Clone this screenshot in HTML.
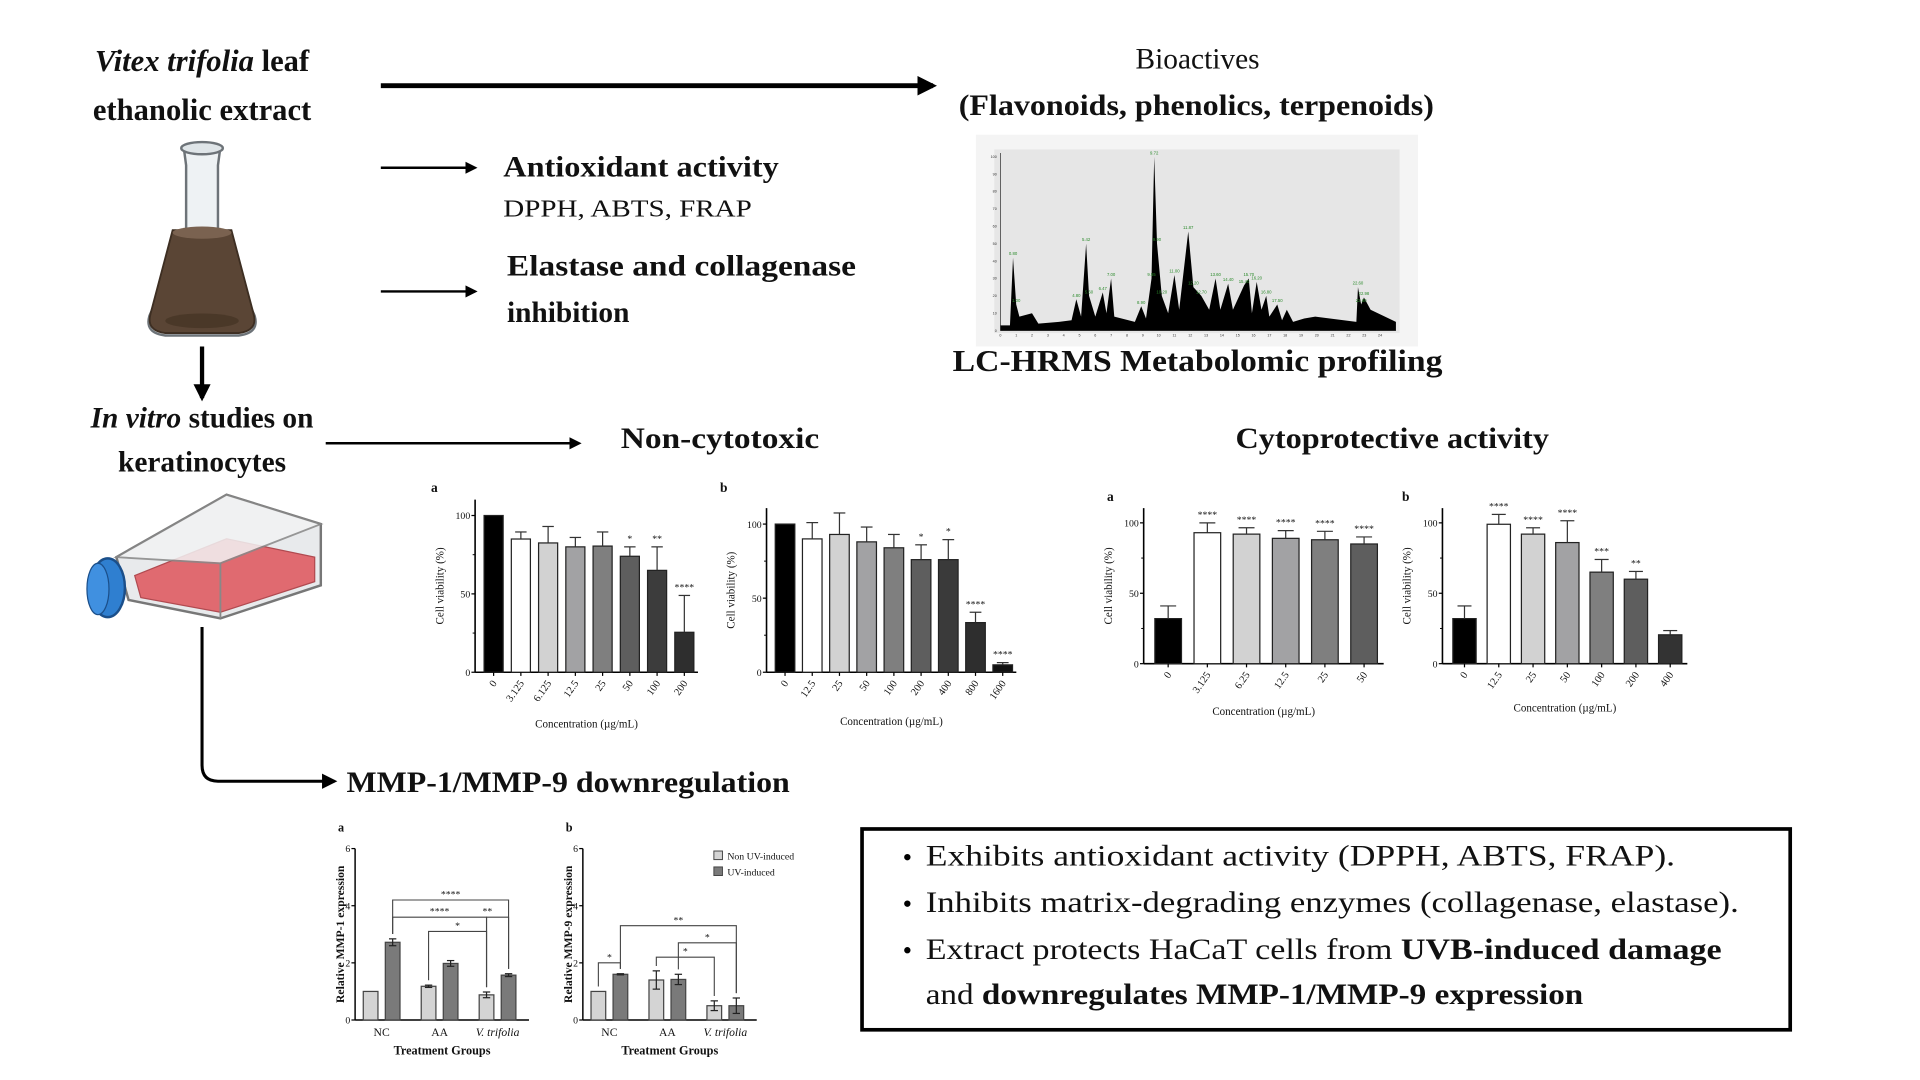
<!DOCTYPE html>
<html><head><meta charset="utf-8"><style>
html,body{margin:0;padding:0;background:#fff;width:1920px;height:1080px;overflow:hidden}
svg{display:block}
text{font-family:"Liberation Serif",serif;fill:#111}
.b{font-weight:bold}
</style></head><body>
<svg id="fig" width="1920" height="1080" viewBox="0 0 1568 882" preserveAspectRatio="none" xmlns="http://www.w3.org/2000/svg">
<defs>
<marker id="ah" viewBox="0 0 10 10" refX="8" refY="5" markerWidth="4" markerHeight="4" orient="auto"><path d="M0,0 L10,5 L0,10 z" fill="#000"/></marker>
<marker id="ah2" viewBox="0 0 10 10" refX="8" refY="5" markerWidth="5" markerHeight="5" orient="auto"><path d="M0,0 L10,5 L0,10 z" fill="#000"/></marker>
</defs>

<!-- headings -->
<text x="165" y="58" text-anchor="middle" font-size="25" class="b"><tspan font-style="italic">Vitex trifolia</tspan> leaf</text>
<text x="165" y="98" text-anchor="middle" font-size="25" class="b">ethanolic extract</text>
<text x="978" y="56" text-anchor="middle" font-size="24">Bioactives</text>
<text x="977" y="94" text-anchor="middle" font-size="24" class="b" textLength="388" lengthAdjust="spacingAndGlyphs">(Flavonoids, phenolics, terpenoids)</text>
<text x="411" y="144" font-size="24" class="b" textLength="225" lengthAdjust="spacingAndGlyphs">Antioxidant activity</text>
<text x="411" y="177" font-size="20" textLength="203" lengthAdjust="spacingAndGlyphs">DPPH, ABTS, FRAP</text>
<text x="414" y="225" font-size="24" class="b" textLength="285" lengthAdjust="spacingAndGlyphs">Elastase and collagenase</text>
<text x="414" y="263" font-size="24" class="b">inhibition</text>
<text x="978" y="303" text-anchor="middle" font-size="25" class="b" textLength="400" lengthAdjust="spacingAndGlyphs">LC-HRMS Metabolomic profiling</text>
<text x="165" y="349" text-anchor="middle" font-size="24" class="b"><tspan font-style="italic">In vitro</tspan> studies on</text>
<text x="165" y="385" text-anchor="middle" font-size="24" class="b">keratinocytes</text>
<text x="588" y="366" text-anchor="middle" font-size="24" class="b" textLength="162" lengthAdjust="spacingAndGlyphs">Non-cytotoxic</text>
<text x="1137" y="366" text-anchor="middle" font-size="24" class="b" textLength="256" lengthAdjust="spacingAndGlyphs">Cytoprotective activity</text>
<text x="283" y="647" font-size="24" class="b" textLength="362" lengthAdjust="spacingAndGlyphs">MMP-1/MMP-9 downregulation</text>

<!-- arrows -->
<line x1="311" y1="70" x2="762" y2="70" stroke="#000" stroke-width="4" marker-end="url(#ah)"/>
<line x1="311" y1="137" x2="388" y2="137" stroke="#000" stroke-width="2" marker-end="url(#ah2)"/>
<line x1="311" y1="238" x2="388" y2="238" stroke="#000" stroke-width="2" marker-end="url(#ah2)"/>
<line x1="266" y1="362" x2="473" y2="362" stroke="#000" stroke-width="2" marker-end="url(#ah2)"/>
<line x1="165" y1="283" x2="165" y2="325" stroke="#000" stroke-width="3.5" marker-end="url(#ah)"/>
<path d="M165,512 L165,625 Q165,638 178,638 L273,638" fill="none" stroke="#000" stroke-width="2.5" marker-end="url(#ah2)"/>

<!-- flask illustration -->
<g>
<path d="M150,120 L180,120 L178,135 L178,190 L208,258 Q212,272 195,274 L135,274 Q118,272 122,258 L152,190 L152,135 Z" fill="#eef2f4" stroke="#6d7378" stroke-width="2"/>
<path d="M141,188 L189,188 L207,256 Q211,270 195,272 L135,272 Q119,270 123,256 Z" fill="#5a4535" stroke="#3d2e22" stroke-width="1.5"/>
<ellipse cx="165" cy="190" rx="24" ry="5" fill="#7a6250"/>
<ellipse cx="165" cy="262" rx="30" ry="6" fill="#4a3828"/>
<ellipse cx="165" cy="121" rx="17" ry="5" fill="#dfe5e8" stroke="#6d7378" stroke-width="2"/>
</g>

<!-- culture flask -->
<g>
<path d="M95,455 L185,404 L262,428 L262,478 L180,505 L105,490 Z" fill="#e8eaec" stroke="#777" stroke-width="2"/>
<path d="M110,470 L185,440 L257,455 L257,475 L180,500 L115,488 Z" fill="#e06a70" stroke="#b04a50" stroke-width="1"/>
<path d="M95,455 L185,404 L262,428 L180,460 Z" fill="#f2f3f4" stroke="#888" stroke-width="1.5" opacity="0.85"/>
<path d="M180,460 L180,505" stroke="#888" stroke-width="1.5"/>
<ellipse cx="88" cy="480" rx="14" ry="24" fill="#2f7fd0" stroke="#1b4f8a" stroke-width="2"/>
<ellipse cx="80" cy="481" rx="9" ry="21" fill="#4090e0" stroke="#1b4f8a" stroke-width="1"/>
</g>

<!-- chromatogram -->
<g id="chrom">
<rect x="797" y="110" width="361" height="173" fill="#f4f4f4"/>
<rect x="812" y="122" width="331" height="150" fill="#e6e6e6"/>
</g>

<!-- summary box -->
<g>
<rect x="704" y="677" width="758" height="164" fill="#fff" stroke="#000" stroke-width="3"/>
<circle cx="741" cy="700" r="2.6" fill="#000"/><circle cx="741" cy="738" r="2.6" fill="#000"/><circle cx="741" cy="776" r="2.6" fill="#000"/>
<text x="756" y="707" font-size="24" textLength="612" lengthAdjust="spacingAndGlyphs">Exhibits antioxidant activity (DPPH, ABTS, FRAP).</text>
<text x="756" y="745" font-size="24" textLength="664" lengthAdjust="spacingAndGlyphs">Inhibits matrix-degrading enzymes (collagenase, elastase).</text>
<text x="756" y="783" font-size="24" textLength="650" lengthAdjust="spacingAndGlyphs">Extract protects HaCaT cells from <tspan class="b">UVB-induced damage</tspan></text>
<text x="756" y="820" font-size="24" textLength="537" lengthAdjust="spacingAndGlyphs">and <tspan class="b">downregulates MMP-1/MMP-9 expression</tspan></text>
</g>
<g id="charts"></g>
</svg>
<script>
// ---- data ----
const ncA_cats=["0","3.125","6.125","12.5","25","50","100","200"];
const ncA_vals=[100,85,82.5,80,80.5,74,65,25.5];
const ncA_errs=[0,4.5,10.5,6,9,6,15,23.5];
const ncA_sig=["","","","","","*","**","****"];
const ncB_cats=["0","12.5","25","50","100","200","400","800","1600"];
const ncB_vals=[100,90,93,88,84,76,76,33.5,5];
const ncB_errs=[0,11,14.5,10,9,10,13.5,7,1.5];
const ncB_sig=["","","","","","*","*","****","****"];
const cpA_cats=["0","3.125","6.25","12.5","25","50"];
const cpA_vals=[32,93,92,89,88,85];
const cpA_errs=[9,7,4.5,5.5,6,5];
const cpA_sig=["","****","****","****","****","****"];
const cpB_cats=["0","12.5","25","50","100","200","400"];
const cpB_vals=[32,99,92,86,65,60,20.5];
const cpB_errs=[9,7,4.5,15.5,9,5.5,3];
const cpB_sig=["","****","****","****","***","**",""];
const viabTicks=[0,50,100];
const mmpGroups=["NC","AA","V. trifolia"];
const mmp1_non=[1,1.18,0.88];
const mmp1_non_err=[0,0.04,0.1];
const mmp1_uv=[2.72,1.98,1.57];
const mmp1_uv_err=[0.12,0.1,0.05];
const mmp9_non=[1,1.4,0.5];
const mmp9_non_err=[0,0.32,0.17];
const mmp9_uv=[1.6,1.42,0.5];
const mmp9_uv_err=[0.02,0.18,0.27];
const mmpTicks=[0,2,4,6];
const chromTime=[0,0.6,0.8,1.0,1.2,2.0,2.4,3.7,4.5,4.8,5.1,5.42,5.6,6.0,6.47,6.7,7.0,7.2,8.5,8.9,9.2,9.55,9.72,9.9,10.2,10.6,11.0,11.3,11.87,12.2,12.7,13.2,13.6,13.9,14.4,14.7,15.4,15.7,15.9,16.2,16.5,16.8,17.0,17.5,17.8,18.1,18.5,19.2,19.9,22.5,22.6,22.8,22.98,23.4,25];
const chromAbund=[3,3,42,15,8,10,4,5,6,18,8,50,20,8,22,10,30,8,5,14,7,30,100,50,20,10,32,12,57,25,20,12,30,12,27,12,26,30,10,28,12,20,8,15,6,12,5,7,8,5,25,15,19,12,5];

const NS="http://www.w3.org/2000/svg";
const root=document.getElementById('charts');
function mk(tag,attrs,parent,txt){const e=document.createElementNS(NS,tag);for(const k in attrs)e.setAttribute(k,attrs[k]);if(txt!==undefined)e.textContent=txt;(parent||root).appendChild(e);return e;}

// ---- chromatogram ----
(function(){
  const g=document.getElementById('chrom');
  const x0=817,x1=1140,yb=270,yt=128;
  const sx=t=>x0+(t/25)*(x1-x0), sy=v=>yb-(v/100)*(yb-yt);
  let d="M"+sx(0)+","+yb;
  for(let i=0;i<chromTime.length;i++){d+=" L"+sx(chromTime[i]).toFixed(1)+","+sy(chromAbund[i]).toFixed(1);}
  d+=" L"+sx(25)+","+yb+" Z";
  const p=mk('path',{d:d,fill:'#000'},g);
  
  
  mk('line',{x1:x0,y1:yb,x2:x1,y2:yb,stroke:'#333','stroke-width':0.6},g);
  mk('line',{x1:x0,y1:yb,x2:x0,y2:yt-3,stroke:'#333','stroke-width':0.6},g);
  for(let i=0;i<chromTime.length;i++){ if(chromAbund[i]>=14){
    const t=mk('text',{x:sx(chromTime[i]),y:sy(chromAbund[i])-2,'font-size':3.5,'text-anchor':'middle',style:'fill:#2a8a2a;font-family:Liberation Sans,sans-serif'},g,chromTime[i].toFixed(2));
    
    
  }}
  for(let v=0;v<=100;v+=10){mk('text',{x:x0-3,y:sy(v)+1,'font-size':3,'text-anchor':'end',style:'fill:#333;font-family:Liberation Sans,sans-serif'},g,v);}
  for(let t=0;t<=24;t++){mk('text',{x:sx(t),y:yb+5,'font-size':3,'text-anchor':'middle',style:'fill:#333;font-family:Liberation Sans,sans-serif'},g,t);}
})();

// ---- bar charts ----
function barChart(o,cats,vals,errs,sig,colors){
  const g=mk('g',{});
  
  
  const sy=v=>o.y0-(v/o.max)*(o.y0-o.yMax);
  const n=cats.length;
  mk('line',{x1:o.ax,y1:o.top,x2:o.ax,y2:o.y0,stroke:'#000','stroke-width':1.3},g);
  mk('line',{x1:o.ax,y1:o.y0,x2:o.xEnd,y2:o.y0,stroke:'#000','stroke-width':1.3},g);
  viabTicks.forEach(t=>{mk('line',{x1:o.ax-3,y1:sy(t),x2:o.ax,y2:sy(t),stroke:'#000'},g);
    mk('text',{x:o.ax-4,y:sy(t)+3,'font-size':8,'text-anchor':'end'},g,t);});
  [25,75].forEach(t=>mk('line',{x1:o.ax-2,y1:sy(t),x2:o.ax,y2:sy(t),stroke:'#000','stroke-width':0.8},g));
  const step=(o.xEnd-o.ax-4)/n;
  for(let i=0;i<n;i++){
    const cx=o.ax+4+step*(i+0.5), w=step*o.bw;
    const top=sy(vals[i]);
    const r=mk('rect',{x:cx-w/2,y:top,width:w,height:o.y0-top,fill:colors[i],stroke:'#222','stroke-width':1},g);
    
    
    if(errs[i]>0){const ey=sy(vals[i]+errs[i]);
      mk('line',{x1:cx,y1:top,x2:cx,y2:ey,stroke:'#333','stroke-width':1},g);
      mk('line',{x1:cx-w*0.3,y1:ey,x2:cx+w*0.3,y2:ey,stroke:'#333','stroke-width':1},g);}
    if(sig[i]){mk('text',{x:cx,y:sy(vals[i]+errs[i])-4,'font-size':8,'text-anchor':'middle'},g,sig[i]);}
    mk('line',{x1:cx,y1:o.y0,x2:cx,y2:o.y0+3,stroke:'#000'},g);
    mk('text',{x:cx+3,y:o.y0+9,'font-size':8.5,'text-anchor':'end',transform:`rotate(-55 ${cx+3} ${o.y0+9})`},g,cats[i]);
  }
  mk('text',{x:(o.ax+o.xEnd)/2,y:o.xl,'font-size':9,'text-anchor':'middle'},g,'Concentration (µg/mL)');
  mk('text',{x:o.ax-26,y:(o.top+o.y0)/2,'font-size':9,'text-anchor':'middle',transform:`rotate(-90 ${o.ax-26} ${(o.top+o.y0)/2})`},g,'Cell viability (%)');
  mk('text',{x:o.lx,y:o.ly,'font-size':11,class:'b'},g,o.letter);
}
barChart({name:'noncytotoxic-chart-a',ax:388,top:408,y0:549,yMax:421,max:100,xEnd:570,bw:0.7,xl:594,lx:352,ly:402,letter:'a'},ncA_cats,ncA_vals,ncA_errs,ncA_sig,['#000','#fff','#d2d2d2','#a2a2a4','#7f7f7f','#5e5e5e','#3c3c3c','#2e2e2e']);
barChart({name:'noncytotoxic-chart-b',ax:626,top:415,y0:549,yMax:428,max:100,xEnd:830,bw:0.72,xl:592,lx:588,ly:402,letter:'b'},ncB_cats,ncB_vals,ncB_errs,ncB_sig,['#000','#fff','#d2d2d2','#a2a2a4','#7f7f7f','#5e5e5e','#3a3a3a','#2e2e2e','#111']);
barChart({name:'cytoprotective-chart-a',ax:934,top:415,y0:542,yMax:427,max:100,xEnd:1130,bw:0.68,xl:584,lx:904,ly:409,letter:'a'},cpA_cats,cpA_vals,cpA_errs,cpA_sig,['#000','#fff','#d2d2d2','#a2a2a4','#7f7f7f','#5e5e5e']);
barChart({name:'cytoprotective-chart-b',ax:1178,top:415,y0:542,yMax:427,max:100,xEnd:1378,bw:0.68,xl:581,lx:1145,ly:409,letter:'b'},cpB_cats,cpB_vals,cpB_errs,cpB_sig,['#000','#fff','#d2d2d2','#a2a2a4','#7f7f7f','#5e5e5e','#333']);

// ---- MMP charts ----
function mmpChart(o,non,nonE,uv,uvE,brackets){
  const g=mk('g',{});
  
  
  const sy=v=>o.y0-(v/6)*(o.y0-o.y6);
  mk('line',{x1:o.ax,y1:o.y6,x2:o.ax,y2:o.y0,stroke:'#000','stroke-width':1.2},g);
  mk('line',{x1:o.ax,y1:o.y0,x2:o.xEnd,y2:o.y0,stroke:'#000','stroke-width':1.2},g);
  mmpTicks.forEach(t=>{mk('line',{x1:o.ax-3,y1:sy(t),x2:o.ax,y2:sy(t),stroke:'#000'},g);
    mk('text',{x:o.ax-4,y:sy(t)+3,'font-size':8,'text-anchor':'end'},g,t);});
  const step=(o.xEnd-o.ax)/3, w=12;
  const pos=[];
  for(let i=0;i<3;i++){
    const cx=o.ax+step*(i+0.5)-2;
    [[non,nonE,'#d4d4d4',-9,'non-uv'],[uv,uvE,'#7a7a7a',9,'uv']].forEach(s=>{
      const x=cx+s[3], top=sy(s[0][i]);
      const r=mk('rect',{x:x-w/2,y:top,width:w,height:o.y0-top,fill:s[2],stroke:'#444','stroke-width':1},g);
      
      
      if(s[1][i]>0){const a=sy(s[0][i]+s[1][i]),b=sy(s[0][i]-s[1][i]);
        mk('line',{x1:x,y1:a,x2:x,y2:b,stroke:'#222'},g);
        mk('line',{x1:x-3,y1:a,x2:x+3,y2:a,stroke:'#222'},g);
        mk('line',{x1:x-3,y1:b,x2:x+3,y2:b,stroke:'#222'},g);}
      pos.push({x:x,top:sy(s[0][i]+s[1][i])});
    });
    const lab=mk('text',{x:cx,y:o.y0+13,'font-size':9.5,'text-anchor':'middle'},g,mmpGroups[i]);
    if(i===2)lab.setAttribute('font-style','italic');
  }
  brackets.forEach(b=>{const y=sy(b[2]),p1=pos[b[0]],p2=pos[b[1]];
    mk('path',{d:`M${p1.x},${p1.top-4} L${p1.x},${y} L${p2.x},${y} L${p2.x},${p2.top-4}`,fill:'none',stroke:'#444','stroke-width':0.9},g);
    mk('text',{x:b[4]!==undefined?b[4]:(p1.x+p2.x)/2,y:y-2,'font-size':8,'text-anchor':'middle'},g,b[3]);});
  mk('text',{x:(o.ax+o.xEnd)/2,y:o.y0+28,'font-size':10,'text-anchor':'middle',class:'b'},g,'Treatment Groups');
  mk('text',{x:o.ax-9,y:(o.y6+o.y0)/2,'font-size':9.5,'text-anchor':'middle',class:'b',transform:`rotate(-90 ${o.ax-9} ${(o.y6+o.y0)/2})`},g,o.ytitle);
  mk('text',{x:o.ax-14,y:o.y6-14,'font-size':10,class:'b'},g,o.letter);
}
mmpChart({name:'mmp1-chart',ax:290,y6:693,y0:833,xEnd:432,ytitle:'Relative MMP-1 expression',letter:'a'},mmp1_non,mmp1_non_err,mmp1_uv,mmp1_uv_err,
  [[1,5,4.2,'****'],[1,4,3.6,'****'],[2,4,3.1,'*'],[4,5,3.6,'**',398]]);
mmpChart({name:'mmp9-chart',ax:476,y6:693,y0:833,xEnd:618,ytitle:'Relative MMP-9 expression',letter:'b'},mmp9_non,mmp9_non_err,mmp9_uv,mmp9_uv_err,
  [[0,1,2.0,'*'],[1,5,3.3,'**'],[3,5,2.7,'*'],[2,4,2.2,'*']]);
// legend
(function(){
  const g=mk('g',{});
  
  
  mk('rect',{x:583,y:695,width:7,height:7,fill:'#d4d4d4',stroke:'#444','stroke-width':0.8},g);
  mk('text',{x:594,y:702,'font-size':8},g,'Non UV-induced');
  mk('rect',{x:583,y:708,width:7,height:7,fill:'#7a7a7a',stroke:'#444','stroke-width':0.8},g);
  mk('text',{x:594,y:715,'font-size':8},g,'UV-induced');
})();
</script>
</body></html>
